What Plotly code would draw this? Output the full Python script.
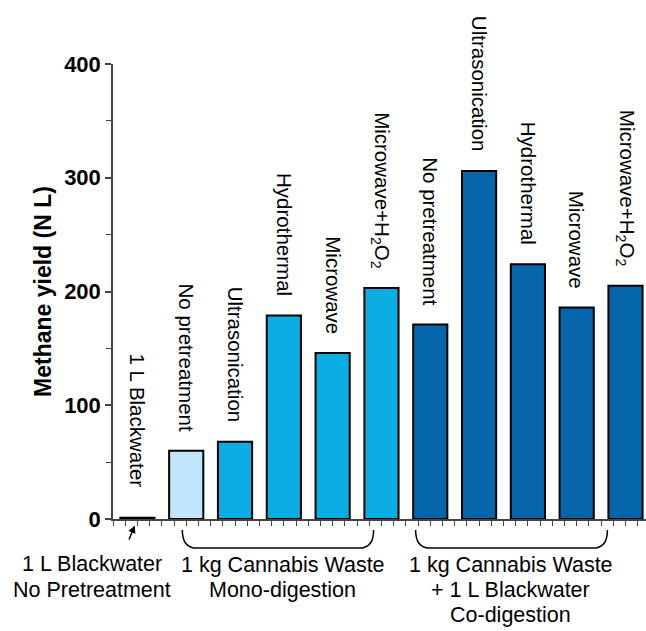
import plotly.graph_objects as go

# ---- data ----
labels = ["1 L Blackwater", "No pretreatment", "Ultrasonication", "Hydrothermal", "Microwave",
          "Microwave+H<sub>2</sub>O<sub>2</sub>",
          "No pretreatment", "Ultrasonication", "Hydrothermal", "Microwave",
          "Microwave+H<sub>2</sub>O<sub>2</sub>"]
values = [1, 60, 68, 179, 146, 203, 171, 306, 224, 186, 205]
groups = ["bw", "mono0", "mono", "mono", "mono", "mono", "co", "co", "co", "co", "co"]
group_colors = {"bw": "#ffffff", "mono0": "#bfe6fa", "mono": "#0aaee2", "co": "#0566ab"}
y_ticks = [0, 100, 200, 300, 400]

FONT = "Liberation Sans, Arial, sans-serif"
xs = list(range(len(values)))

fig = go.Figure()
fig.add_trace(go.Bar(
    x=xs, y=values, width=0.7,
    marker=dict(color=[group_colors[g] for g in groups],
                line=dict(color="black", width=2)),
    showlegend=False, hoverinfo="skip"))

# rotated labels above bars
for i, (lab, v) in enumerate(zip(labels, values)):
    fig.add_annotation(x=i, y=v, xref="x", yref="y", text=lab, textangle=90,
                       showarrow=False, xanchor="center", yanchor="bottom",
                       yshift=28 if i == 0 else 17,
                       font=dict(family=FONT, size=20.5, color="black"))

# bottom group labels
def ptext(x, y, t, xref="x"):
    fig.add_annotation(x=x, y=y, xref=xref, yref="paper", text=t, showarrow=False,
                       xanchor="center", yanchor="middle",
                       font=dict(family=FONT, size=21.5, color="black"))

ptext(-0.039, -0.099, "1 L Blackwater", xref="paper")
ptext(-0.039, -0.156, "No Pretreatment", xref="paper")
ptext(2.98, -0.101, "1 kg Cannabis Waste")
ptext(2.98, -0.156, "Mono-digestion")
ptext(7.65, -0.101, "1 kg Cannabis Waste")
ptext(7.65, -0.156, "+ 1 L Blackwater")
ptext(7.65, -0.211, "Co-digestion")

# arrow pointing to blackwater
fig.add_annotation(x=0, y=0, xref="x", yref="y", text="", showarrow=True,
                   ax=-9, ay=22, arrowhead=2, arrowsize=1, arrowwidth=1.5,
                   standoff=7, arrowcolor="black")

# brackets
def bracket(x0, x1):
    yt, yb, r = -0.024, -0.064, 0.3
    path = (f"M {x0},{yt} Q {x0},{yb} {x0 + r},{yb} L {x1 - r},{yb} "
            f"Q {x1},{yb} {x1},{yt}")
    fig.add_shape(type="path", path=path, xref="x", yref="paper",
                  line=dict(color="black", width=1.5))

bracket(0.92, 4.84)
bracket(5.70, 9.63)

fig.update_layout(
    width=646, height=631,
    margin=dict(l=113, r=0, t=64, b=112),
    plot_bgcolor="white", paper_bgcolor="white",
    font=dict(family=FONT, color="black"),
    xaxis=dict(range=[-0.5, 10.42], showgrid=False, zeroline=False,
               showline=True, linecolor="#444", linewidth=1.5,
               ticks="outside", tick0=-0.5, dtick=0.25, ticklen=5,
               tickwidth=1.2, tickcolor="#444", showticklabels=False),
    yaxis=dict(range=[0, 400], showgrid=False, zeroline=False,
               showline=True, linecolor="#444", linewidth=1.5,
               tickvals=y_ticks, ticks="outside", ticklen=6, tickwidth=1.5,
               tickcolor="#444",
               minor=dict(dtick=50, ticks="outside", ticklen=5, tickcolor="#444",
                          tickwidth=1.2),
               tickfont=dict(family=FONT, size=22, color="black", weight="bold"),
               title=dict(text="<b>Methane yield (N L)</b>", standoff=6,
                          font=dict(family=FONT, size=23, color="black"))),
)

fig.write_html("out.html")
